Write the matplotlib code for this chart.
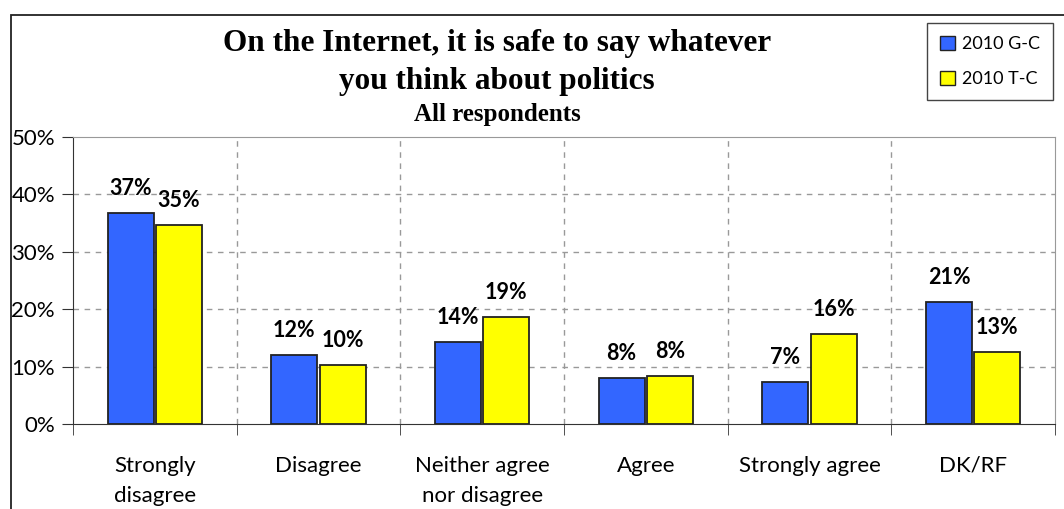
import matplotlib
matplotlib.use("Agg")
import matplotlib.pyplot as plt
from matplotlib.patches import Patch, Rectangle
import numpy as np

# data
categories = ["Strongly\ndisagree", "Disagree", "Neither agree\nnor disagree",
              "Agree", "Strongly agree", "DK/RF"]
gc_2010 = [36.8, 12.0, 14.3, 8.0, 7.3, 21.3]
tc_2010 = [34.6, 10.3, 18.6, 8.3, 15.7, 12.6]
series_names = ["2010 G-C", "2010 T-C"]
yticks = [0, 10, 20, 30, 40, 50]

W, H = 1064, 509
fig = plt.figure(figsize=(W / 100, H / 100), dpi=100)
ax = fig.add_axes([73 / W, 1 - 424 / H, (1055 - 73) / W, (424 - 137) / H])

sans = "Lato"
serif = "Liberation Serif"
blue = "#3366FF"
yellow = "#FFFF00"

x = np.arange(len(categories))
bw = 0.28
off = 0.148
b1 = ax.bar(x - off, gc_2010, bw, color=blue, edgecolor="#222222", lw=1.3, zorder=3)
b2 = ax.bar(x + off, tc_2010, bw, color=yellow, edgecolor="#222222", lw=1.3, zorder=3)

for bars, vals in [(b1, gc_2010), (b2, tc_2010)]:
    for r, v in zip(bars, vals):
        ax.annotate("%d%%" % int(v + 0.5), (r.get_x() + r.get_width() / 2, v),
                    xytext=(0, 13), textcoords="offset points",
                    ha="center", va="baseline", fontsize=15.5,
                    fontweight="bold", family=sans)

ax.set_xlim(-0.5, len(categories) - 0.5)
ax.set_ylim(0, 50)
ax.set_yticks(yticks)
ax.set_yticklabels(["%d%%" % t for t in yticks], family=sans, fontsize=16)
ax.set_xticks(x)
ax.set_xticklabels(categories, family=sans, fontsize=16, linespacing=1.6)
ax.set_xticks(np.arange(len(categories) + 1) - 0.5, minor=True)
ax.tick_params(axis="x", which="major", length=0, pad=23)
ax.tick_params(axis="x", which="minor", length=8, direction="out", color="#333333")
ax.tick_params(axis="y", length=8, direction="out", color="#333333", pad=5)

# dashed grid
for t in yticks[1:-1]:
    ax.axhline(t, color="#999999", lw=1, ls=(0, (4, 4)), zorder=1)
for b in np.arange(1, len(categories)) - 0.5:
    ax.axvline(b, color="#999999", lw=1, ls=(0, (4, 4)), zorder=1)

for s in ["left", "bottom"]:
    ax.spines[s].set_color("#333333")
for s in ["top", "right"]:
    ax.spines[s].set_color("#999999")

# title
tx = 497 / W
fig.text(tx, 1 - 43 / H, "On the Internet, it is safe to say whatever",
         ha="center", va="center", fontsize=22.5, fontweight="bold", family=serif)
fig.text(tx, 1 - 82 / H, "you think about politics",
         ha="center", va="center", fontsize=22.5, fontweight="bold", family=serif)
fig.text(tx, 1 - 115 / H, "All respondents",
         ha="center", va="center", fontsize=18, fontweight="bold", family=serif)

# outer chart border (runs off the canvas on right and bottom)
fig.patches.append(Rectangle((11 / W, -0.1), 1.2, 1.1 - 15 / H, transform=fig.transFigure,
                             fill=False, edgecolor="#222222", lw=1.3))

handles = [Patch(facecolor=blue, edgecolor="#222222"),
           Patch(facecolor=yellow, edgecolor="#222222")]
leg = ax.legend(handles, series_names, loc="upper right",
                bbox_to_anchor=(1053 / W, 1 - 23 / H), bbox_transform=fig.transFigure,
                borderaxespad=0, fancybox=False, framealpha=1, edgecolor="#444444",
                prop={"family": sans, "size": 13}, handlelength=0.8, handleheight=0.8,
                handletextpad=0.4, labelspacing=1.05, borderpad=0.72)
leg.get_frame().set_linewidth(1)

fig.savefig("out.png", dpi=100)
